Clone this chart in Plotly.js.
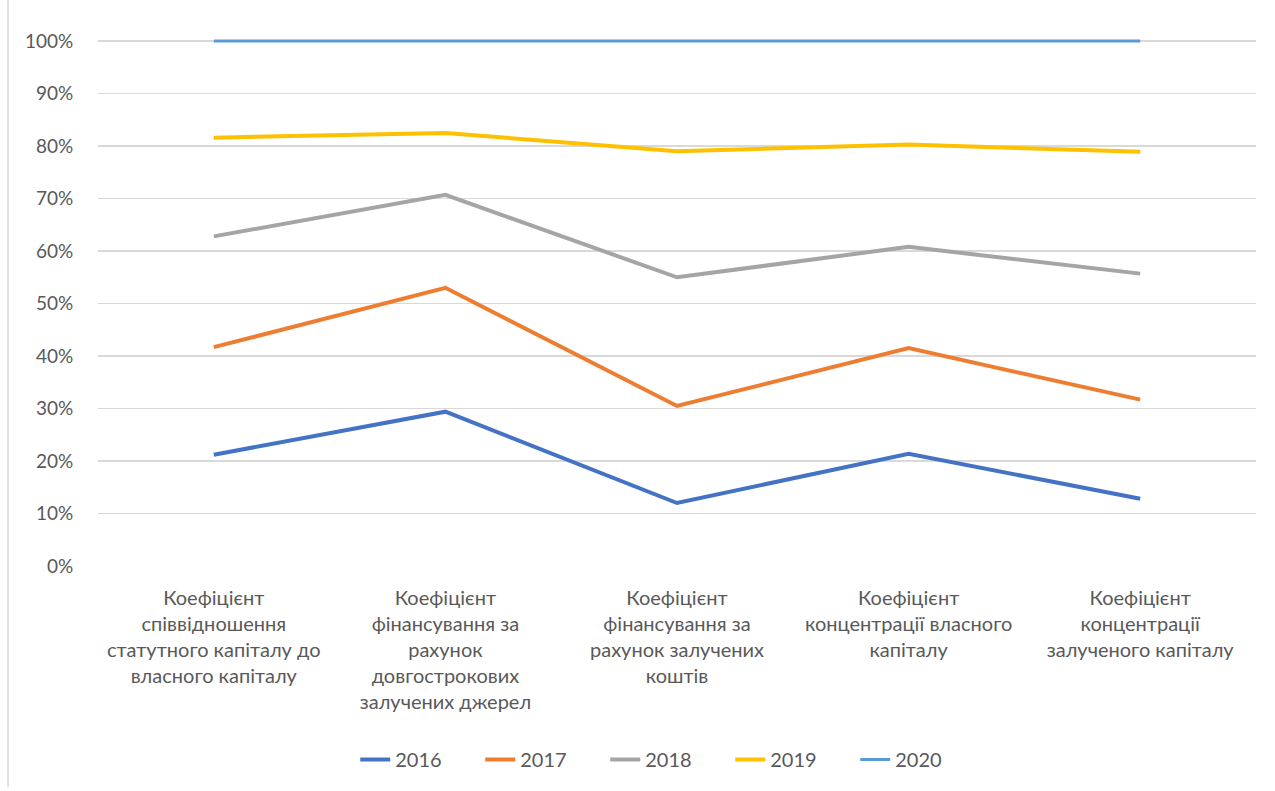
<!DOCTYPE html>
<html>
<head>
<meta charset="utf-8">
<script src="https://cdn.plot.ly/plotly-3.0.1.min.js"></script>
<style>html,body{margin:0;padding:0;background:#fff;}#chart{width:1275px;height:791px;}</style>
</head>
<body>
<div id="chart"></div>
<script>
const categories = [
  "Коефіцієнт<br>співвідношення<br>статутного капіталу до<br>власного капіталу",
  "Коефіцієнт<br>фінансування за<br>рахунок<br>довгострокових<br>залучених джерел",
  "Коефіцієнт<br>фінансування за<br>рахунок залучених<br>коштів",
  "Коефіцієнт<br>концентрації власного<br>капіталу",
  "Коефіцієнт<br>концентрації<br>залученого капіталу"
];
const years = ["2016", "2017", "2018", "2019", "2020"];
const v2016 = [0.212, 0.294, 0.120, 0.214, 0.128];
const v2017 = [0.417, 0.530, 0.305, 0.415, 0.317];
const v2018 = [0.628, 0.707, 0.550, 0.608, 0.557];
const v2019 = [0.816, 0.825, 0.790, 0.803, 0.789];
const v2020 = [1.0, 1.0, 1.0, 1.0, 1.0];
const seriesValues = [v2016, v2017, v2018, v2019, v2020];
const colors = ["#4472C4", "#ED7D31", "#A5A5A5", "#FFC000", "#5B9BD5"];
const widths = [4, 4, 4, 4, 3];

const traces = years.map((y, i) => ({
  type: "scatter",
  mode: "lines",
  name: y,
  x: categories,
  y: seriesValues[i],
  line: {color: colors[i], width: widths[i]}
}));

const layout = {
  width: 1275,
  height: 791,
  margin: {l: 98, r: 19, t: 39, b: 222},
  paper_bgcolor: "#ffffff",
  plot_bgcolor: "#ffffff",
  font: {family: "Lato, 'Open Sans', sans-serif", color: "#595959"},
  showlegend: true,
  legend: {
    orientation: "h",
    x: 0.492, xanchor: "center",
    y: -0.33, yanchor: "top",
    font: {size: 20, color: "#595959"},
    entrywidth: 80,
    entrywidthmode: "pixels",
    tracegroupgap: 0
  },
  xaxis: {
    type: "category",
    range: [-0.5, 4.5],
    showgrid: false,
    zeroline: false,
    showline: false,
    ticks: "outside",
    ticklen: 14,
    tickcolor: "rgba(0,0,0,0)",
    tickfont: {size: 20, color: "#595959"},
    tickangle: 0,
    fixedrange: true
  },
  yaxis: {
    range: [0, 1.004],
    dtick: 0.1,
    tick0: 0,
    tickformat: ".0%",
    showgrid: true,
    gridcolor: "#D9D9D9",
    gridwidth: 1.5,
    zeroline: false,
    showline: false,
    ticks: "outside",
    ticklen: 20,
    tickcolor: "rgba(0,0,0,0)",
    tickfont: {size: 19, color: "#595959"}
  },
  shapes: [{
    type: "line", xref: "paper", yref: "paper",
    x0: -0.0777, x1: -0.0777, y0: -0.42, y1: 1.08,
    line: {color: "#D9D9D9", width: 1.5}
  }]
};

Plotly.newPlot("chart", traces, layout, {displayModeBar: false, staticPlot: true});
</script>
</body>
</html>
